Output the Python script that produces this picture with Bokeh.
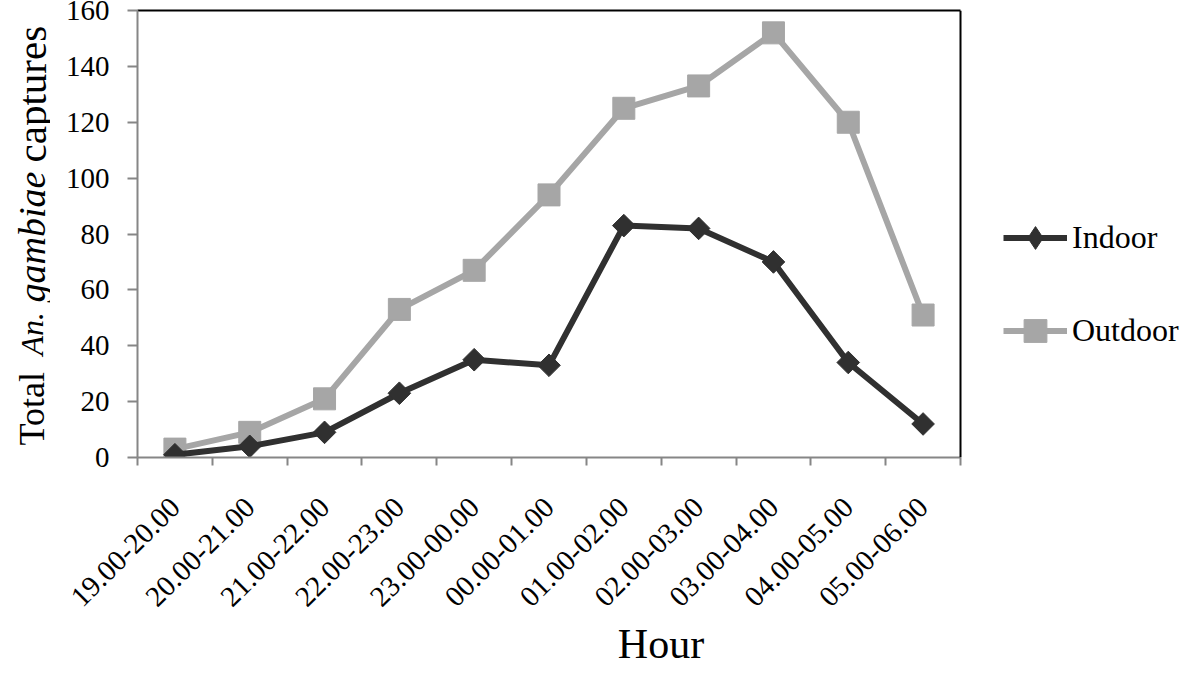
import math
from bokeh.plotting import figure
from bokeh.layouts import row
from bokeh.models import Range1d, FixedTicker, Legend, LegendItem, Span, LinearAxis
from bokeh.core.properties import value
from bokeh.embed import file_html
from bokeh.resources import INLINE

hours = ["19.00-20.00", "20.00-21.00", "21.00-22.00", "22.00-23.00", "23.00-00.00",
         "00.00-01.00", "01.00-02.00", "02.00-03.00", "03.00-04.00", "04.00-05.00",
         "05.00-06.00"]
indoor = [1, 4, 9, 23, 35, 33, 83, 82, 70, 34, 12]
outdoor = [3, 9, 21, 53, 67, 94, 125, 133, 152, 120, 51]
y_ticks = [0, 20, 40, 60, 80, 100, 120, 140, 160]

SERIF = "Liberation Serif"
DARK = "#303030"
LIGHT = "#a6a6a6"
AXIS = "#868686"
H = 670
STRIP = 50
FRAME_TOP, FRAME_BOTTOM = 10, 457

xpos = [i + 0.5 for i in range(len(hours))]

# ---- narrow strip holding the y-axis title (mixed roman / italic) ----
# its frame is aligned with the main frame, so map canvas rows 1:1
t = figure(width=STRIP, height=H, output_backend="svg", toolbar_location=None,
           x_range=Range1d(0, STRIP), y_range=Range1d(H - FRAME_BOTTOM, H - FRAME_TOP),
           min_border=0, outline_line_color=None, title=None)
t.axis.visible = False
t.grid.visible = False
ytitle = [("Total", H - 445, "normal", "36px"),
          ("An.", H - 355, "italic", "32px"),
          ("gambiae", H - 302, "italic", "38px"),
          ("captures", H - 162, "normal", "41px")]
for txt, yy, style, size in ytitle:
    t.text(x=[31], y=[yy], text=[txt], angle=math.pi / 2, text_align="left",
           text_baseline="alphabetic", text_font=value(SERIF),
           text_font_style=style, text_font_size=value(size), text_color="black")

# ---- main chart: frame extends to the right canvas edge to host the legend ----
NX = len(hours)
PX = 823 / NX  # pixels per category
xmax = NX + 224 / PX
p = figure(width=1184 - STRIP, height=H, output_backend="svg", toolbar_location=None,
           x_range=Range1d(0, xmax), y_range=Range1d(0, 160), title=None,
           min_border_left=137 - STRIP, min_border_right=0, min_border_top=FRAME_TOP,
           min_border_bottom=H - FRAME_BOTTOM)
p.grid.visible = False
p.outline_line_color = None

# x axis: labels at category centres, tick marks at category boundaries
p.xaxis.bounds = (0, NX)
p.xaxis.ticker = FixedTicker(ticks=xpos, minor_ticks=list(range(NX + 1)))
p.xaxis.major_label_overrides = {x: h for x, h in zip(xpos, hours)}
p.xaxis.major_tick_out = 0
p.xaxis.major_tick_in = 0
p.xaxis.minor_tick_out = 8
p.xaxis.minor_tick_in = 0
p.xaxis.minor_tick_line_color = AXIS
p.xaxis.minor_tick_line_width = 2
p.xaxis.axis_line_color = AXIS
p.xaxis.axis_line_width = 2
p.xaxis.major_label_orientation = math.pi / 4
p.xaxis.major_label_text_font = SERIF
p.xaxis.major_label_text_font_size = "29px"
p.xaxis.major_label_text_color = "black"
p.xaxis.major_label_standoff = 37
p.xaxis.axis_label = "Hour"
p.xaxis.axis_label_text_font = SERIF
p.xaxis.axis_label_text_font_style = "normal"
p.xaxis.axis_label_text_font_size = "42px"
p.xaxis.axis_label_text_color = "black"
p.xaxis.axis_label_standoff = 3

# top border of the plot area
top = LinearAxis(bounds=(0, NX), ticker=FixedTicker(ticks=[]),
                 axis_line_color="black", axis_line_width=2,
                 major_label_text_font_size="0px", major_tick_line_color=None,
                 minor_tick_line_color=None)
p.add_layout(top, "above")
# right border of the plot area
p.add_layout(Span(location=NX, dimension="height", line_color="black", line_width=2))

# y axis
p.yaxis.ticker = FixedTicker(ticks=y_ticks, minor_ticks=[])
p.yaxis.major_tick_out = 10
p.yaxis.major_tick_in = 0
p.yaxis.major_tick_line_color = AXIS
p.yaxis.major_tick_line_width = 2
p.yaxis.minor_tick_line_color = None
p.yaxis.axis_line_color = AXIS
p.yaxis.axis_line_width = 2
p.yaxis.major_label_text_font = SERIF
p.yaxis.major_label_text_font_size = "29px"
p.yaxis.major_label_text_color = "black"
p.yaxis.major_label_standoff = 18

# series
l_out = p.line(xpos, outdoor, line_color=LIGHT, line_width=6)
m_out = p.scatter(xpos, outdoor, marker="square", size=22, fill_color=LIGHT,
                  line_color=LIGHT)
l_in = p.line(xpos, indoor, line_color=DARK, line_width=6)
m_in = p.scatter(xpos, indoor, marker="square", size=16, angle=math.pi / 4,
                 fill_color=DARK, line_color=DARK)
# diamond key for the legend (same data, not drawn on the chart itself)
m_in_key = p.scatter(xpos, indoor, marker="diamond", size=24, fill_color=DARK,
                     line_color=DARK, visible=False)

legend = Legend(items=[LegendItem(label="Indoor", renderers=[l_in, m_in_key]),
                       LegendItem(label="Outdoor", renderers=[l_out, m_out])],
                location=(866, 98), orientation="vertical",
                glyph_width=64, glyph_height=57, spacing=36, padding=0, margin=0,
                label_standoff=5, label_text_font=SERIF,
                label_text_font_size="32px", label_text_baseline="middle",
                label_text_color="black", inactive_fill_alpha=0,
                border_line_color=None, background_fill_alpha=0)
p.add_layout(legend)

layout = row(t, p, spacing=0)
open("out.html", "w").write(file_html(layout, INLINE))
